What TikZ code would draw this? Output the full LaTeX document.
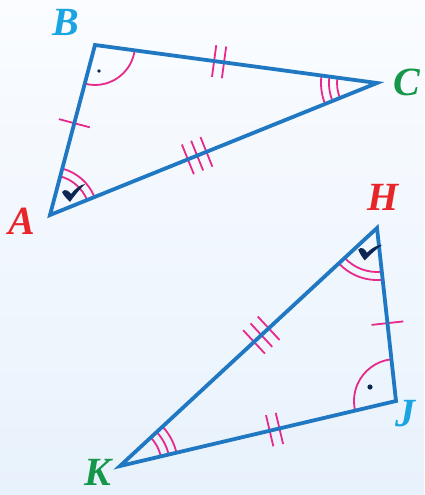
\documentclass[tikz,border=0pt]{standalone}
\usepackage{fontspec}
\setmainfont{Liberation Serif}
\usetikzlibrary{angles,decorations.markings}
\definecolor{edgeblue}{RGB}{31,120,193}
\definecolor{mpink}{RGB}{230,41,138}
\definecolor{navy}{RGB}{13,38,84}
\definecolor{lblred}{RGB}{232,38,42}
\definecolor{lblcyan}{RGB}{26,165,226}
\definecolor{lblgreen}{RGB}{22,150,72}
\definecolor{bgtop}{RGB}{250,252,255}
\definecolor{bgbot}{RGB}{232,242,252}
\tikzset{
  edge/.style={draw=edgeblue, line width=3.8pt, line join=miter},
  arcmark/.style={draw=mpink, line width=1.8pt},
  lbl/.style={font=\fontsize{40}{44}\selectfont\bfseries\itshape, inner sep=0pt},
  tickone/.style={postaction={decorate, decoration={markings,
     mark=at position #1 with {\draw[mpink, line width=1.8pt] (0,-16)--(0,16);}}}},
  ticktwo/.style={postaction={decorate, decoration={markings,
     mark=at position #1 with {\draw[mpink, line width=1.8pt] (-5,-16)--(-5,16) (5,-16)--(5,16);}}}},
  tickthree/.style={postaction={decorate, decoration={markings,
     mark=at position #1 with {\draw[mpink, line width=1.8pt] (-10,-16)--(-10,16) (0,-16)--(0,16) (10,-16)--(10,16);}}}},
}
\newcommand{\chkmark}{\fill[navy] (-11,-1) .. controls (-8,-5) and (-4,-2) .. (-2,1) .. controls (3,-5) and (7,-8) .. (12,-9) .. controls (7,-4) and (1,3) .. (-3,9) .. controls (-6,6) and (-9,3) .. (-11,-1) -- cycle;}
\begin{document}
\begin{tikzpicture}[x=1pt,y=-1pt]
\path[use as bounding box, top color=bgtop, bottom color=bgbot] (0,0) rectangle (424,495);
% vertices
\coordinate (A) at (50,215);
\coordinate (B) at (95,45);
\coordinate (C) at (377,83);
\coordinate (H) at (377,228);
\coordinate (J) at (396,401);
\coordinate (K) at (120,466);
% angle marks
\pic[arcmark, angle radius=40pt] {angle=A--B--C};
\pic[arcmark, angle radius=40pt] {angle=C--A--B};
\pic[arcmark, angle radius=48pt] {angle=C--A--B};
\pic[arcmark, angle radius=40pt] {angle=B--C--A};
\pic[arcmark, angle radius=48pt] {angle=B--C--A};
\pic[arcmark, angle radius=56pt] {angle=B--C--A};
\pic[arcmark, angle radius=44pt] {angle=K--H--J};
\pic[arcmark, angle radius=52pt] {angle=K--H--J};
\pic[arcmark, angle radius=42pt] {angle=H--J--K};
\pic[arcmark, angle radius=42pt] {angle=J--K--H};
\pic[arcmark, angle radius=50pt] {angle=J--K--H};
\pic[arcmark, angle radius=58pt] {angle=J--K--H};
% sides with ticks
\path[tickone=0.54] (A) -- (B);
\path[ticktwo=0.44] (B) -- (C);
\path[tickthree=0.45] (A) -- (C);
\path[tickthree=0.45] (H) -- (K);
\path[ticktwo=0.56] (K) -- (J);
\path[tickone=0.55] (H) -- (J);
\draw[edge] (A) -- (B) -- (C) -- cycle;
\draw[edge] (H) -- (J) -- (K) -- cycle;
% dots and checks
\fill[navy] (99,71) circle (1.8);
\fill[navy] (370,387) circle (2.6);
\begin{scope}[shift={(73,193)}]\chkmark\end{scope}
\begin{scope}[shift={(369,252)}, rotate=-8]\chkmark\end{scope}
% labels
\node[lbl, text=lblcyan] (lB) at (66,22) {B};
\node[lbl, text=lblgreen] (lC) at (407,82) {C};
\node[lbl, text=lblred] (lA) at (22,221) {A};
\node[lbl, text=lblred] (lH) at (383,197) {H};
\node[lbl, text=lblcyan] (lJ) at (405,414) {J};
\node[lbl, text=lblgreen] (lK) at (98,472) {K};
\end{tikzpicture}
\end{document}
